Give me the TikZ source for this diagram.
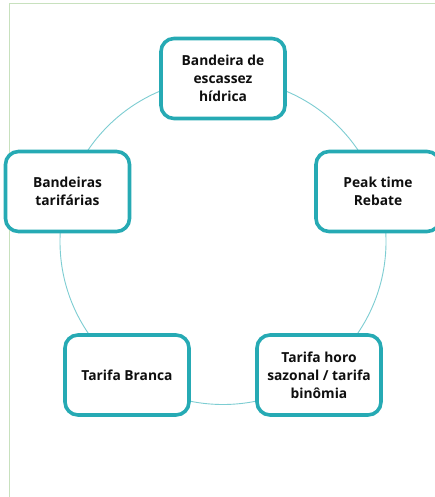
\documentclass[tikz,border=0pt]{standalone}
\usepackage{fontspec}
\setmainfont{Open Sans}[BoldFont={* Bold}]
\definecolor{boxteal}{RGB}{38,170,180}
\definecolor{ringteal}{RGB}{125,205,210}
\definecolor{framegreen}{RGB}{200,225,190}
\definecolor{txt}{RGB}{15,15,15}
\begin{document}
\begin{tikzpicture}[x=1pt,y=-1pt,
  item/.style={draw=boxteal, line width=3.6pt, rounded corners=13pt, fill=white,
    minimum width=124pt, minimum height=80pt, align=center, text=txt,
    font=\fontsize{13.8}{18}\selectfont\bfseries, inner sep=2pt}]
\clip (0,0) rectangle (435,497);
\fill[white] (0,0) rectangle (435,497);
\draw[framegreen, line width=1pt] (9.5,3.5) -- (440,3.5);
\draw[framegreen, line width=1pt] (9.5,3.5) -- (9.5,502);
\coordinate (c) at (223,241.5);
\draw[ringteal, line width=0.9pt] (c) circle[radius=163];
\node[item] (top) at (223,78.5) {Bandeira de\\escassez\\hídrica};
\node[item] (left) at (67.5,191.5) {Bandeiras\\tarifárias};
\node[item] (right) at (378,191.5) {Peak time\\Rebate};
\node[item] (bl) at (127,375) {Tarifa Branca};
\node[item] (br) at (319,375) {Tarifa horo\\sazonal / tarifa\\binômia};
\end{tikzpicture}
\end{document}
